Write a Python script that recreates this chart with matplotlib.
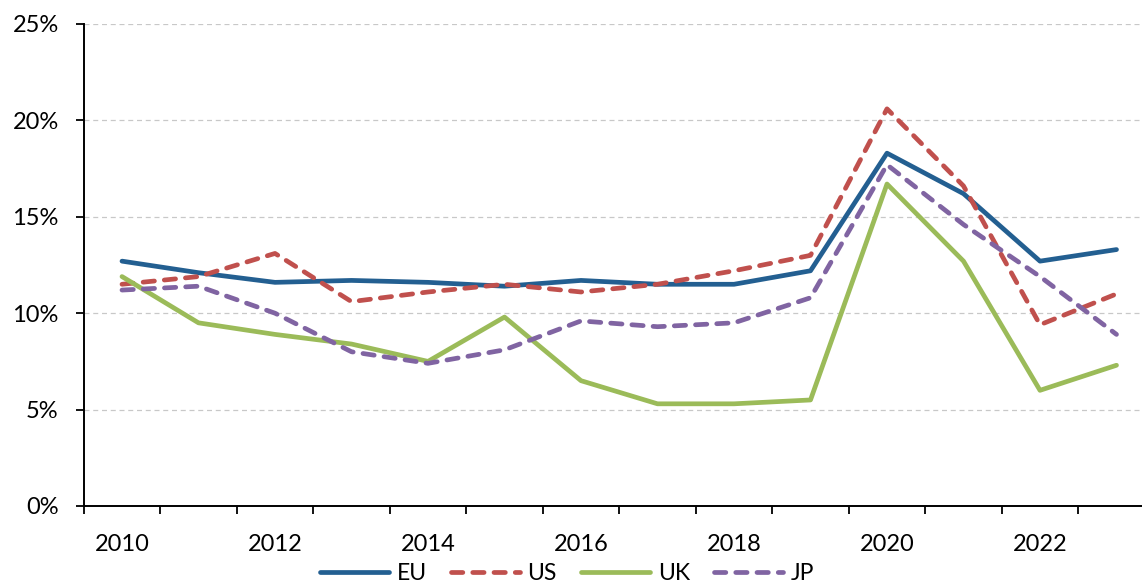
import numpy as np
import matplotlib
matplotlib.use("Agg")
import matplotlib.pyplot as plt
from matplotlib.ticker import FixedLocator, PercentFormatter

plt.rcParams['font.family'] = ['Lato', 'DejaVu Sans']

# data, in percent
years = [2010, 2011, 2012, 2013, 2014, 2015, 2016, 2017, 2018, 2019, 2020, 2021, 2022, 2023]
eu = [12.7, 12.1, 11.6, 11.7, 11.6, 11.4, 11.7, 11.5, 11.5, 12.2, 18.3, 16.2, 12.7, 13.3]
us = [11.5, 11.9, 13.1, 10.6, 11.1, 11.5, 11.1, 11.5, 12.2, 13.0, 20.6, 16.6, 9.4, 11.0]
uk = [11.9, 9.5, 8.9, 8.4, 7.5, 9.8, 6.5, 5.3, 5.3, 5.5, 16.7, 12.7, 6.0, 7.3]
jp = [11.2, 11.4, 10.0, 8.0, 7.4, 8.1, 9.6, 9.3, 9.5, 10.8, 17.7, 14.6, 11.9, 8.9]
year_labels = [2010, 2012, 2014, 2016, 2018, 2020, 2022]
y_ticks = [0, 5, 10, 15, 20, 25]

W, H = 1142, 585
fig = plt.figure(figsize=(W / 100, H / 100), dpi=100)
left, right = 83.75, 1154.75
top, bottom = 24, 506
ax = fig.add_axes([left / W, (H - bottom) / H, (right - left) / W, (bottom - top) / H])

lw = 3.4
dash = (0, (2.4, 2.1))
ax.plot(years, eu, color='#235F91', lw=lw, solid_capstyle='round', solid_joinstyle='round', label='EU', zorder=3)
ax.plot(years, us, color='#C0504D', lw=lw, linestyle=dash, dash_capstyle='round', label='US', zorder=3)
ax.plot(years, uk, color='#9BBB59', lw=lw, solid_capstyle='round', solid_joinstyle='round', label='UK', zorder=3)
ax.plot(years, jp, color='#8064A2', lw=lw, linestyle=dash, dash_capstyle='round', label='JP', zorder=3)

ax.set_xlim(years[0] - 0.5, years[-1] + 0.5)
ax.set_ylim(0, 25)

ax.yaxis.set_major_locator(FixedLocator(y_ticks))
ax.yaxis.set_major_formatter(PercentFormatter(decimals=0))
ax.grid(axis='y', color='#C8C8C8', linestyle=(0, (4, 3)), linewidth=0.9, zorder=0)

# ticks at category boundaries, labels at every second year
ax.xaxis.set_major_locator(FixedLocator([y - 0.5 for y in years] + [years[-1] + 0.5]))
ax.xaxis.set_major_formatter(plt.NullFormatter())
ax.xaxis.set_minor_locator(FixedLocator(year_labels))
ax.set_xticklabels([str(y) for y in year_labels], minor=True)
ax.tick_params(axis='x', which='major', length=6, width=1.3, direction='out', color='black')
ax.tick_params(axis='x', which='minor', length=0, pad=20, labelsize=17)
ax.tick_params(axis='y', length=6, width=1.3, direction='out', pad=12, labelsize=17)

for s in ['top', 'right']:
    ax.spines[s].set_visible(False)
for s in ['left', 'bottom']:
    ax.spines[s].set_linewidth(1.4)
    ax.spines[s].set_color('black')

fig.legend(loc='center', bbox_to_anchor=(567 / W, (H - 574) / H), ncol=4, frameon=False,
           fontsize=16.5, handlelength=3.0, handletextpad=0.35, columnspacing=1.05,
           borderaxespad=0, borderpad=0)

fig.savefig('out.png', dpi=100)
